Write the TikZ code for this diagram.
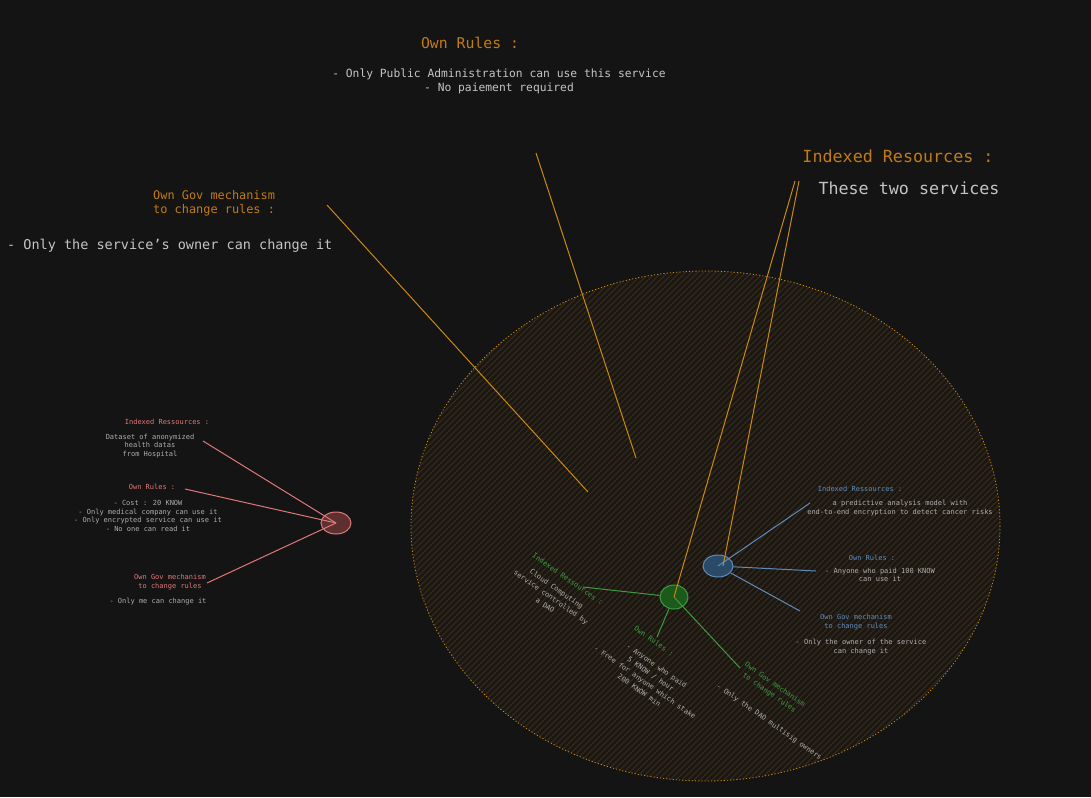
\documentclass[tikz,border=0pt]{standalone}
\usepackage{fontspec}
\setmainfont{DejaVu Sans Mono}
\usetikzlibrary{shapes.geometric}
\definecolor{bgcolor}{HTML}{141414}
\definecolor{govline}{HTML}{C98A12}
\definecolor{govtitle}{HTML}{C27B14}
\definecolor{txtgray}{HTML}{C4C4C4}
\definecolor{smallgray}{HTML}{AEAEAE}
\definecolor{hospline}{HTML}{E07878}
\definecolor{hospfill}{HTML}{5E2F2F}
\definecolor{ailine}{HTML}{5F8CBA}
\definecolor{aifill}{HTML}{2A4A68}
\definecolor{cloudline}{HTML}{3F9A3F}
\definecolor{cloudfill}{HTML}{1C5A1C}
\definecolor{hatchfill}{HTML}{191613}
\definecolor{hatchline}{HTML}{352A1A}

\begin{document}
\begin{tikzpicture}[
  x=1pt, y=-1pt,
  service/.style={
    ellipse,
    minimum width=30,
    minimum height=22,
    inner sep=0pt,
    line width=1pt
  },
  headtext/.style={text=govtitle, inner sep=0pt, align=center},
  bodytext/.style={text=txtgray, inner sep=0pt, align=center},
  tinyhead/.style={inner sep=0pt, align=center, font=\fontsize{7}{8.6}\selectfont},
  tinytext/.style={text=smallgray, inner sep=0pt, align=center, font=\fontsize{7}{8.6}\selectfont},
  tilted/.style={rotate=-35, font=\fontsize{7}{10}\selectfont},
  link/.style={line width=1pt}
]
  % Canvas
  \fill[bgcolor] (0,0) rectangle (1091,797);
  \useasboundingbox (0,0) rectangle (1091,797);

  % Shared area
  \fill[hatchfill] (705.5,526) ellipse [x radius=294.5, y radius=255];
  \begin{scope}
    \clip (705.5,526) ellipse [x radius=294.5, y radius=255];
    \foreach \x in {-150,-144,...,1010}
      \draw[hatchline, line width=1.3pt] (\x,790) -- (\x+530,260);
  \end{scope}
  \draw[govline, line width=0.8pt, dash pattern=on 1.2pt off 2pt]
    (705.5,526) ellipse [x radius=294.5, y radius=255];

  % Top notes
  \node[headtext, font=\fontsize{14.8}{18}\selectfont] (rulestitle) at (470,43) {Own Rules :};
  \node[bodytext, font=\fontsize{11.3}{14}\selectfont] (rulestext) at (499,81)
    {- Only Public Administration can use this service\\- No paiement required};
  \node[headtext, font=\fontsize{16.7}{20}\selectfont] (idxtitle) at (898,156) {Indexed Resources :};
  \node[bodytext, font=\fontsize{16.7}{20}\selectfont] (idxtext) at (909,188) {These two services};
  \node[headtext, font=\fontsize{11.9}{14}\selectfont, align=left, anchor=west] (govtitle) at (153,203)
    {Own Gov mechanism\\to change rules :};
  \node[bodytext, font=\fontsize{13.5}{16}\selectfont, anchor=west] (govtext) at (7,246)
    {- Only the service{\char39}s owner can change it};

  % Hospital service
  \node[service, fill=hospfill, draw=hospline] (hosp) at (336,523) {};
  \node[tinyhead, text=hospline] (hospidx) at (167,422) {Indexed Ressources :};
  \node[tinytext] (hospidxtext) at (150,446) {Dataset of anonymized\\health datas\\from Hospital};
  \node[tinyhead, text=hospline] (hosprules) at (152,487) {Own Rules :};
  \node[tinytext] (hosprulestext) at (148,516)
    {- Cost : 20 KNOW\\- Only medical company can use it\\- Only encrypted service can use it\\- No one can read it};
  \node[tinyhead, text=hospline] (hospgov) at (170,582) {Own Gov mechanism\\to change rules};
  \node[tinytext] (hospgovtext) at (158,602) {- Only me can change it};

  % AI service
  \node[service, fill=aifill, draw=ailine] (ai) at (718,566) {};
  \node[tinyhead, text=ailine] (aiidx) at (860,489) {Indexed Ressources :};
  \node[tinytext] (aiidxtext) at (900,508)
    {a predictive analysis model with\\end-to-end encryption to detect cancer risks};
  \node[tinyhead, text=ailine] (airules) at (872,558) {Own Rules :};
  \node[tinytext] (airulestext) at (880,575) {- Anyone who paid 100 KNOW\\can use it};
  \node[tinyhead, text=ailine] (aigov) at (856,622) {Own Gov mechanism\\to change rules};
  \node[tinytext] (aigovtext) at (861,647) {- Only the owner of the service\\can change it};

  % Cloud service
  \node[service, fill=cloudfill, draw=cloudline, minimum width=28, minimum height=24] (cloud) at (674,597) {};
  \node[tinyhead, tilted, text=cloudline] (cloudidx) at (568,579) {Indexed Ressources :};
  \node[tinytext, tilted] (cloudidxtext) at (551,597) {Cloud Computing\\service controlled by\\a DAO};
  \node[tinyhead, tilted, text=cloudline] (cloudrules) at (654,641) {Own Rules :};
  \node[tinytext, tilted] (cloudrulestext) at (648,678)
    {- Anyone who paid\\5 KNOW / hour\\- Free for anyone which stake\\200 KNOW min};
  \node[tinyhead, tilted, text=cloudline] (cloudgov) at (772,689) {Own Gov mechanism\\to change rules};
  \node[tinytext, tilted] (cloudgovtext) at (769,722) {- Only the DAO multisig owners};

  % Line ends
  \coordinate (govstart) at (327,205);
  \coordinate (govend) at (588,492);
  \coordinate (rulesstart) at (536,153);
  \coordinate (rulesend) at (636,458);
  \coordinate (idxstartA) at (795,181);
  \coordinate (idxstartB) at (799,181);
  \coordinate (hospA) at (203,441);
  \coordinate (hospB) at (185,489);
  \coordinate (hospC) at (207,583);
  \coordinate (aiA) at (810,503);
  \coordinate (aiB) at (816,571);
  \coordinate (aiC) at (800,611);
  \coordinate (cloudA) at (583,587);
  \coordinate (cloudB) at (657,637);
  \coordinate (cloudC) at (740,668);

  % Links
  \draw[link, hospline] (hospA) -- (hosp.center);
  \draw[link, hospline] (hospB) -- (hosp.center);
  \draw[link, hospline] (hospC) -- (hosp.center);
  \draw[link, ailine] (ai.center) -- (aiA);
  \draw[link, ailine] (ai) -- (aiB);
  \draw[link, ailine] (ai) -- (aiC);
  \draw[link, cloudline] (cloud) -- (cloudA);
  \draw[link, cloudline] (cloud) -- (cloudB);
  \draw[link, cloudline] (cloud.center) -- (cloudC);
  \draw[link, govline] (govstart) -- (govend);
  \draw[link, govline] (rulesstart) -- (rulesend);
  \draw[link, govline] (idxstartA) -- (cloud.center);
  \draw[link, govline] (idxstartB) -- ([xshift=5]ai.center);
\end{tikzpicture}
\end{document}
